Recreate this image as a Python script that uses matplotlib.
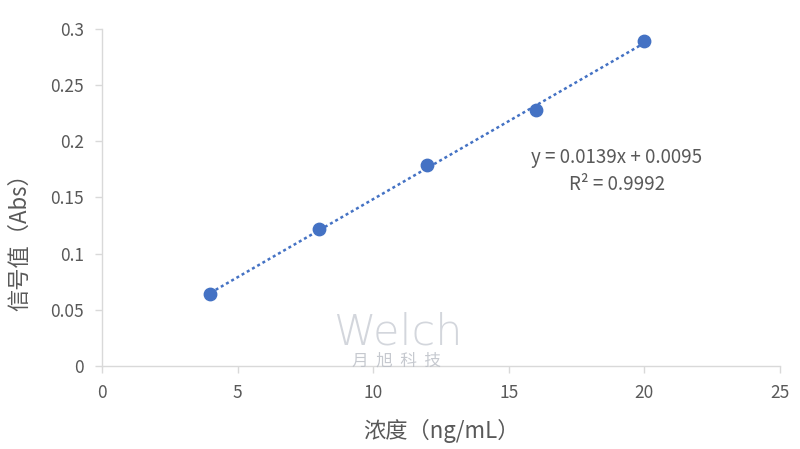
import matplotlib
matplotlib.use("Agg")
import matplotlib.pyplot as plt
import numpy as np

conc = [4, 8, 12, 16, 20]
absorb = [0.064, 0.122, 0.179, 0.228, 0.289]
slope = 0.0139
intercept = 0.0095
eq_text = "y = 0.0139x + 0.0095"
r2_text = "R² = 0.9992"
xticks = [0, 5, 10, 15, 20, 25]
yticks = [0, 0.05, 0.1, 0.15, 0.2, 0.25, 0.3]
ytick_labels = ["0", "0.05", "0.1", "0.15", "0.2", "0.25", "0.3"]

plt.rcParams['font.family'] = ['Noto Sans CJK SC', 'DejaVu Sans']
txt = '#595959'
blue = '#4472C4'

fig = plt.figure(figsize=(8, 4.49), dpi=100)
ax = fig.add_axes([0.1275, 0.185, 0.8475, 0.7505])

xs = np.array([conc[0], conc[-1]])
ax.plot(xs, slope * xs + intercept, linestyle=(0, (1.2, 1.2)), color=blue, lw=1.8)
ax.scatter(conc, absorb, s=80, color=blue, zorder=3)

ax.set_xlim(0, 25)
ax.set_ylim(0, 0.3)
ax.set_xticks(xticks)
ax.set_yticks(yticks)
ax.set_yticklabels(ytick_labels)
for s in ['top', 'right']:
    ax.spines[s].set_visible(False)
for s in ['left', 'bottom']:
    ax.spines[s].set_color('#d9d9d9')
    ax.spines[s].set_linewidth(1)
ax.tick_params(colors='#d9d9d9', labelcolor=txt, labelsize=12.5, length=5, width=1)
ax.tick_params(axis='x', pad=8)
ax.tick_params(axis='y', pad=8)

ax.set_xlabel("浓度（ng/mL）", fontsize=16, color=txt, labelpad=12)
ax.set_ylabel("信号值（Abs）", fontsize=16, color=txt)
ax.yaxis.set_label_coords(-0.104, 0.385)

fig.text(617/800, 1 - 158/449, eq_text, ha='center', va='center', fontsize=13.5, color=txt)
fig.text(617/800, 1 - 185/449, r2_text, ha='center', va='center', fontsize=13.5, color=txt)

# watermark
fig.text(398/800, 1 - 332/449, "Welch", ha='center', va='center', fontsize=31,
         color='#c8ccd4', alpha=0.8, family=['DejaVu Sans'], fontweight='light')
fig.text(397/800, 1 - 361/449, "月  旭  科  技", ha='center', va='center', fontsize=12,
         color='#b8bcc4', alpha=0.8)

fig.savefig("out.png", dpi=100)
